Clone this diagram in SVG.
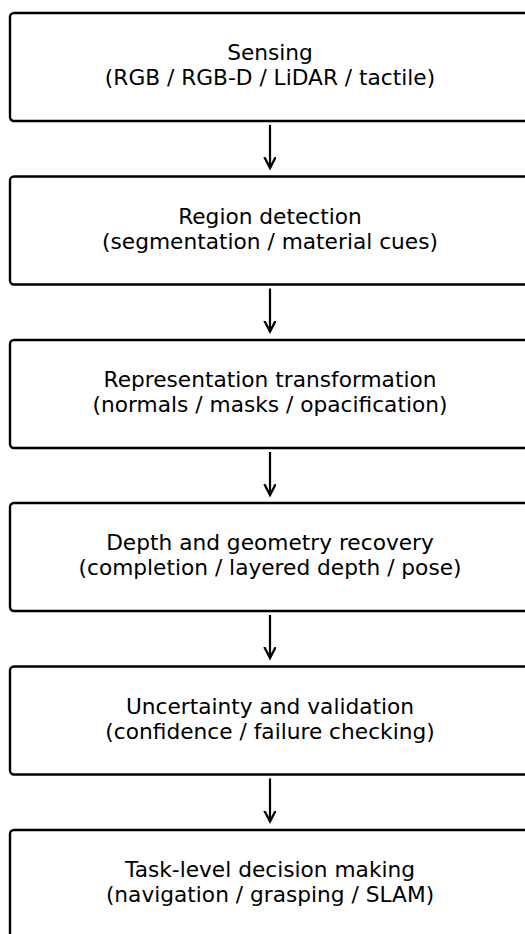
<svg xmlns="http://www.w3.org/2000/svg" width="525" height="934" viewBox="0 0 525 934">
<style>
.box{fill:#fff;stroke:#000;stroke-width:2.4}
.t{font-family:"DejaVu Sans",sans-serif;font-size:21px;fill:#000;text-anchor:middle}
.c{stroke:#000;stroke-width:2.2;fill:none}
</style>
<defs>
<marker id="ah" markerWidth="14" markerHeight="14" refX="11" refY="6" orient="auto" markerUnits="userSpaceOnUse">
<path d="M0,0.3 L11,6 L0,11.7" fill="none" stroke="#000" stroke-width="2.3"/>
</marker>
</defs>
<rect width="525" height="934" fill="#fff"/>
<g id="n1"><rect class="box" x="10" y="13" width="522" height="108" rx="4"/><g transform="translate(270,0) scale(1.034,1)"><text class="t" x="0" y="60.5">Sensing</text><text class="t" x="0" y="85.5">(RGB / RGB-D / LiDAR / tactile)</text></g></g>
<g id="n2"><rect class="box" x="10" y="176.5" width="522" height="108" rx="4"/><g transform="translate(270,0) scale(1.034,1)"><text class="t" x="0" y="224">Region detection</text><text class="t" x="0" y="249">(segmentation / material cues)</text></g></g>
<g id="n3"><rect class="box" x="10" y="340" width="522" height="108" rx="4"/><g transform="translate(270,0) scale(1.034,1)"><text class="t" x="0" y="387.5">Representation transformation</text><text class="t" x="0" y="412.5">(normals / masks / opacification)</text></g></g>
<g id="n4"><rect class="box" x="10" y="503" width="522" height="108" rx="4"/><g transform="translate(270,0) scale(1.034,1)"><text class="t" x="0" y="550.5">Depth and geometry recovery</text><text class="t" x="0" y="575.5">(completion / layered depth / pose)</text></g></g>
<g id="n5"><rect class="box" x="10" y="666.5" width="522" height="108" rx="4"/><g transform="translate(270,0) scale(1.034,1)"><text class="t" x="0" y="714">Uncertainty and validation</text><text class="t" x="0" y="739">(confidence / failure checking)</text></g></g>
<g id="n6"><rect class="box" x="10" y="830" width="522" height="108" rx="4"/><g transform="translate(270,0) scale(1.034,1)"><text class="t" x="0" y="877.5">Task-level decision making</text><text class="t" x="0" y="902.5">(navigation / grasping / SLAM)</text></g></g>
<g id="connectors">
<line class="c" x1="270" y1="125" x2="270" y2="168" marker-end="url(#ah)"/>
<line class="c" x1="270" y1="288.5" x2="270" y2="331.5" marker-end="url(#ah)"/>
<line class="c" x1="270" y1="452" x2="270" y2="495" marker-end="url(#ah)"/>
<line class="c" x1="270" y1="615" x2="270" y2="658" marker-end="url(#ah)"/>
<line class="c" x1="270" y1="778.5" x2="270" y2="821.5" marker-end="url(#ah)"/>
</g>
</svg>
